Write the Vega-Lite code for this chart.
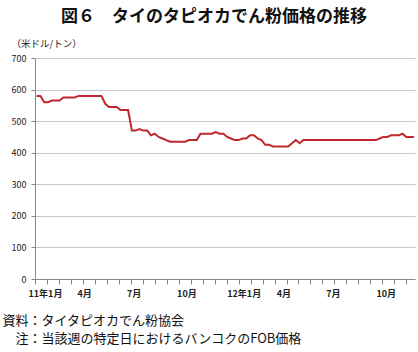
{
  "$schema": "https://vega.github.io/schema/vega-lite/v6.json",
  "width": 380,
  "height": 221,
  "autosize": {"type": "none"},
  "padding": {"left": 35, "top": 58, "right": 3, "bottom": 73},
  "background": "white",
  "config": {"view": {"stroke": null}, "font": "Noto Sans CJK JP"},
  "title": {"text": "図６　タイのタピオカでん粉価格の推移", "fontSize": 17, "fontWeight": "bold", "font": "Noto Sans CJK JP", "color": "#111111", "anchor": "middle", "dx": -11, "offset": 12},
  "data": {"values": [
    {"date": "2011-01-04", "price": 580}, {"date": "2011-01-11", "price": 580}, {"date": "2011-01-18", "price": 560}, {"date": "2011-01-25", "price": 560},
    {"date": "2011-02-01", "price": 565}, {"date": "2011-02-08", "price": 565}, {"date": "2011-02-15", "price": 565}, {"date": "2011-02-22", "price": 575},
    {"date": "2011-03-01", "price": 575}, {"date": "2011-03-08", "price": 575}, {"date": "2011-03-15", "price": 575}, {"date": "2011-03-22", "price": 580},
    {"date": "2011-03-29", "price": 580}, {"date": "2011-04-05", "price": 580}, {"date": "2011-04-12", "price": 580}, {"date": "2011-04-19", "price": 580},
    {"date": "2011-04-26", "price": 580}, {"date": "2011-05-03", "price": 580}, {"date": "2011-05-10", "price": 555}, {"date": "2011-05-17", "price": 545},
    {"date": "2011-05-24", "price": 545}, {"date": "2011-05-31", "price": 545}, {"date": "2011-06-07", "price": 535}, {"date": "2011-06-14", "price": 535},
    {"date": "2011-06-21", "price": 535}, {"date": "2011-06-28", "price": 470}, {"date": "2011-07-05", "price": 470}, {"date": "2011-07-12", "price": 475},
    {"date": "2011-07-19", "price": 470}, {"date": "2011-07-26", "price": 470}, {"date": "2011-08-02", "price": 455}, {"date": "2011-08-09", "price": 460},
    {"date": "2011-08-16", "price": 450}, {"date": "2011-08-23", "price": 445}, {"date": "2011-08-30", "price": 440}, {"date": "2011-09-06", "price": 435},
    {"date": "2011-09-13", "price": 435}, {"date": "2011-09-20", "price": 435}, {"date": "2011-09-27", "price": 435}, {"date": "2011-10-04", "price": 435},
    {"date": "2011-10-11", "price": 440}, {"date": "2011-10-18", "price": 440}, {"date": "2011-10-25", "price": 440}, {"date": "2011-11-01", "price": 460},
    {"date": "2011-11-08", "price": 460}, {"date": "2011-11-15", "price": 460}, {"date": "2011-11-22", "price": 460}, {"date": "2011-11-29", "price": 465},
    {"date": "2011-12-06", "price": 460}, {"date": "2011-12-13", "price": 460}, {"date": "2011-12-20", "price": 450}, {"date": "2011-12-27", "price": 445},
    {"date": "2012-01-03", "price": 440}, {"date": "2012-01-10", "price": 440}, {"date": "2012-01-17", "price": 445}, {"date": "2012-01-24", "price": 445},
    {"date": "2012-01-31", "price": 455}, {"date": "2012-02-07", "price": 455}, {"date": "2012-02-14", "price": 445}, {"date": "2012-02-21", "price": 440},
    {"date": "2012-02-28", "price": 425}, {"date": "2012-03-06", "price": 425}, {"date": "2012-03-13", "price": 420}, {"date": "2012-03-20", "price": 420},
    {"date": "2012-03-27", "price": 420}, {"date": "2012-04-03", "price": 420}, {"date": "2012-04-10", "price": 420}, {"date": "2012-04-17", "price": 430},
    {"date": "2012-04-24", "price": 440}, {"date": "2012-05-01", "price": 430}, {"date": "2012-05-08", "price": 440}, {"date": "2012-05-15", "price": 440},
    {"date": "2012-05-22", "price": 440}, {"date": "2012-05-29", "price": 440}, {"date": "2012-06-05", "price": 440}, {"date": "2012-06-12", "price": 440},
    {"date": "2012-06-19", "price": 440}, {"date": "2012-06-26", "price": 440}, {"date": "2012-07-03", "price": 440}, {"date": "2012-07-10", "price": 440},
    {"date": "2012-07-17", "price": 440}, {"date": "2012-07-24", "price": 440}, {"date": "2012-07-31", "price": 440}, {"date": "2012-08-07", "price": 440},
    {"date": "2012-08-14", "price": 440}, {"date": "2012-08-21", "price": 440}, {"date": "2012-08-28", "price": 440}, {"date": "2012-09-04", "price": 440},
    {"date": "2012-09-11", "price": 440}, {"date": "2012-09-18", "price": 440}, {"date": "2012-09-25", "price": 445}, {"date": "2012-10-02", "price": 450},
    {"date": "2012-10-09", "price": 450}, {"date": "2012-10-16", "price": 455}, {"date": "2012-10-23", "price": 455}, {"date": "2012-10-30", "price": 455},
    {"date": "2012-11-06", "price": 460}, {"date": "2012-11-13", "price": 450}, {"date": "2012-11-20", "price": 450}, {"date": "2012-11-27", "price": 450}
  ]},
  "encoding": {
    "y": {
      "field": "price", "type": "quantitative",
      "scale": {"domain": [0, 700]},
      "axis": {
        "values": [0, 100, 200, 300, 400, 500, 600, 700],
        "labelOverlap": false, "labelFlush": false,
        "grid": true, "gridColor": "#c8c8c8", "gridWidth": 1,
        "domainColor": "#888888", "tickColor": "#888888", "tickSize": 4,
        "labelFontSize": 9, "labelColor": "#222222", "labelPadding": 5,
        "title": "（米ドル/トン）", "titleAngle": 0, "titleAlign": "left", "titleBaseline": "middle",
        "titleX": -24, "titleY": -15, "titleFontSize": 9.5, "titleFontWeight": "normal", "titleColor": "#222222"
      }
    }
  },
  "layer": [
    {
      "mark": {"type": "line", "color": "#c0282d", "strokeWidth": 2},
      "encoding": {
        "x": {
          "field": "date", "type": "temporal",
          "scale": {"type": "utc", "domain": [{"year": 2011, "month": 1, "date": 1, "utc": true}, {"year": 2012, "month": 11, "date": 29, "utc": true}]},
          "axis": {
            "orient": "bottom",
            "values": [
              {"year": 2011, "month": 1, "date": 1, "utc": true}, {"year": 2011, "month": 4, "date": 1, "utc": true},
              {"year": 2011, "month": 7, "date": 1, "utc": true}, {"year": 2011, "month": 10, "date": 1, "utc": true},
              {"year": 2012, "month": 1, "date": 1, "utc": true}, {"year": 2012, "month": 4, "date": 1, "utc": true},
              {"year": 2012, "month": 7, "date": 1, "utc": true}, {"year": 2012, "month": 10, "date": 1, "utc": true}
            ],
            "labelExpr": "(utcmonth(datum.value) == 0 ? (utcyear(datum.value) - 2000) + '年' : '') + (utcmonth(datum.value) + 1) + '月'",
            "ticks": false, "domain": false, "grid": false,
            "labelAlign": "left", "labelOffset": -7, "labelPadding": 10, "labelBaseline": "top",
            "labelFontSize": 9, "labelFontWeight": "bold", "labelColor": "#222222",
            "labelOverlap": false, "labelFlush": false, "labelBound": false,
            "title": ["資料：タイタピオカでん粉協会", "\u200b\u3000注：当該週の特定日におけるバンコクのFOB価格"],
            "titleFontSize": 13, "titleFontWeight": "normal", "titleColor": "#111111",
            "titleAnchor": "start", "titleAlign": "left", "titleBaseline": "top",
            "titleX": -33, "titleY": 35, "titleLineHeight": 18.5
          }
        }
      }
    },
    {
      "mark": {"type": "line", "strokeOpacity": 0},
      "encoding": {
        "x": {
          "field": "date", "type": "temporal",
          "axis": {
            "orient": "bottom",
            "values": [
              {"year": 2011, "month": 1, "date": 1, "utc": true}, {"year": 2011, "month": 1, "date": 23, "utc": true},
              {"year": 2011, "month": 1, "date": 45, "utc": true}, {"year": 2011, "month": 1, "date": 67, "utc": true},
              {"year": 2011, "month": 1, "date": 89, "utc": true}, {"year": 2011, "month": 1, "date": 111, "utc": true},
              {"year": 2011, "month": 1, "date": 133, "utc": true}, {"year": 2011, "month": 1, "date": 155, "utc": true},
              {"year": 2011, "month": 1, "date": 177, "utc": true}, {"year": 2011, "month": 1, "date": 199, "utc": true},
              {"year": 2011, "month": 1, "date": 221, "utc": true}, {"year": 2011, "month": 1, "date": 243, "utc": true},
              {"year": 2011, "month": 1, "date": 265, "utc": true}, {"year": 2011, "month": 1, "date": 287, "utc": true},
              {"year": 2011, "month": 1, "date": 309, "utc": true}, {"year": 2011, "month": 1, "date": 331, "utc": true},
              {"year": 2011, "month": 1, "date": 353, "utc": true}, {"year": 2011, "month": 1, "date": 375, "utc": true},
              {"year": 2011, "month": 1, "date": 397, "utc": true}, {"year": 2011, "month": 1, "date": 419, "utc": true},
              {"year": 2011, "month": 1, "date": 441, "utc": true}, {"year": 2011, "month": 1, "date": 463, "utc": true},
              {"year": 2011, "month": 1, "date": 485, "utc": true}, {"year": 2011, "month": 1, "date": 507, "utc": true},
              {"year": 2011, "month": 1, "date": 529, "utc": true}, {"year": 2011, "month": 1, "date": 551, "utc": true},
              {"year": 2011, "month": 1, "date": 573, "utc": true}, {"year": 2011, "month": 1, "date": 595, "utc": true},
              {"year": 2011, "month": 1, "date": 617, "utc": true}, {"year": 2011, "month": 1, "date": 639, "utc": true},
              {"year": 2011, "month": 1, "date": 661, "utc": true}, {"year": 2011, "month": 1, "date": 683, "utc": true}
            ],
            "labels": false, "ticks": true, "tickSize": 5, "tickColor": "#888888",
            "domain": true, "domainColor": "#888888", "grid": false, "title": null
          }
        }
      }
    }
  ],
  "resolve": {"axis": {"x": "independent"}}
}
